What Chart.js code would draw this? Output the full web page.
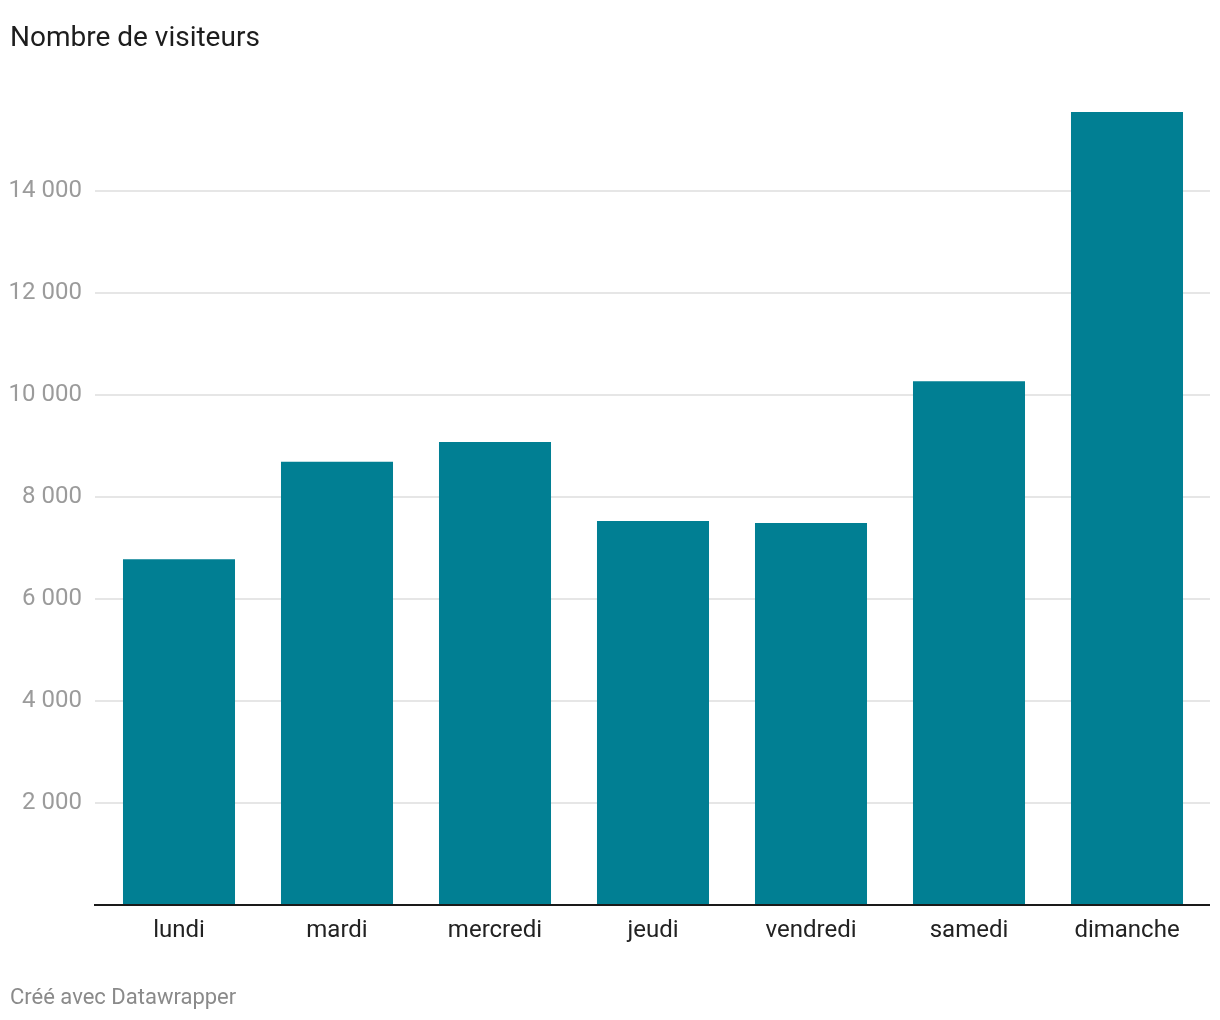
<!DOCTYPE html>
<html>
<head>
<meta charset="utf-8">
<script src="https://cdn.jsdelivr.net/npm/chart.js@4"></script>
<style>
  html, body { margin: 0; padding: 0; background: #fff; }
  #wrap { position: relative; width: 1220px; height: 1020px; }
  #title { position: absolute; left: 10px; top: 19px; font-family: Roboto, sans-serif; font-size: 28px; line-height: 36px; color: #1d1d1d; white-space: nowrap; }
  #footer { position: absolute; left: 10px; top: 983px; font-family: Roboto, sans-serif; font-size: 22px; line-height: 28px; color: #8a8a8a; white-space: nowrap; }
  canvas { position: absolute; left: 0; top: 0; }
</style>
</head>
<body>
<div id="wrap">
  <canvas id="c" width="1220" height="1020"></canvas>
  <div id="title">Nombre de visiteurs</div>
  <div id="footer">Créé avec Datawrapper</div>
</div>
<script>
const categories = ['lundi', 'mardi', 'mercredi', 'jeudi', 'vendredi', 'samedi', 'dimanche'];
const visitors = [6780, 8690, 9080, 7530, 7490, 10270, 15550];
const yTicks = [2000, 4000, 6000, 8000, 10000, 12000, 14000];
const yMax = 16000;

const fmt = v => String(v).replace(/\B(?=(\d{3})+(?!\d))/g, ' ');

const gridPlugin = {
  id: 'dwGrid',
  beforeDatasetsDraw(chart) {
    const { ctx, chartArea, scales } = chart;
    ctx.save();
    ctx.strokeStyle = '#e6e6e6';
    ctx.lineWidth = 2;
    yTicks.forEach(v => {
      const y = Math.round(scales.y.getPixelForValue(v));
      ctx.beginPath();
      ctx.moveTo(chartArea.left - 5, y);
      ctx.lineTo(chartArea.right + 4, y);
      ctx.stroke();
    });
    ctx.restore();
  },
  afterDatasetsDraw(chart) {
    const { ctx, chartArea, scales } = chart;
    const y = Math.round(scales.y.getPixelForValue(0));
    ctx.save();
    ctx.strokeStyle = '#1a1a1a';
    ctx.lineWidth = 2;
    ctx.beginPath();
    ctx.moveTo(chartArea.left - 6, y);
    ctx.lineTo(chartArea.right + 4, y);
    ctx.stroke();
    ctx.restore();
  }
};

new Chart(document.getElementById('c'), {
  type: 'bar',
  data: {
    labels: categories,
    datasets: [{
      data: visitors,
      backgroundColor: '#017f93',
      borderWidth: 0,
      barPercentage: 0.709,
      categoryPercentage: 1.0
    }]
  },
  options: {
    responsive: false,
    animation: false,
    events: [],
    layout: { padding: { top: 89, right: 14, bottom: 65, left: 0 } },
    plugins: { legend: { display: false }, tooltip: { enabled: false } },
    scales: {
      x: {
        grid: { display: false, drawTicks: false },
        border: { display: false },
        ticks: {
          padding: 12,
          color: '#222',
          font: { family: 'Roboto', size: 24 },
          maxRotation: 0
        },
        afterFit(scale) { scale.height = 50; }
      },
      y: {
        min: 0,
        max: yMax,
        grid: { display: false, drawTicks: false },
        border: { display: false },
        afterBuildTicks(scale) { scale.ticks = yTicks.map(v => ({ value: v })); },
        ticks: {
          padding: 18,
          color: '#9b9b9b',
          font: { family: 'Roboto', size: 24 },
          callback: v => fmt(v)
        },
        afterFit(scale) { scale.width = 100; }
      }
    }
  },
  plugins: [gridPlugin]
});
</script>
</body>
</html>
